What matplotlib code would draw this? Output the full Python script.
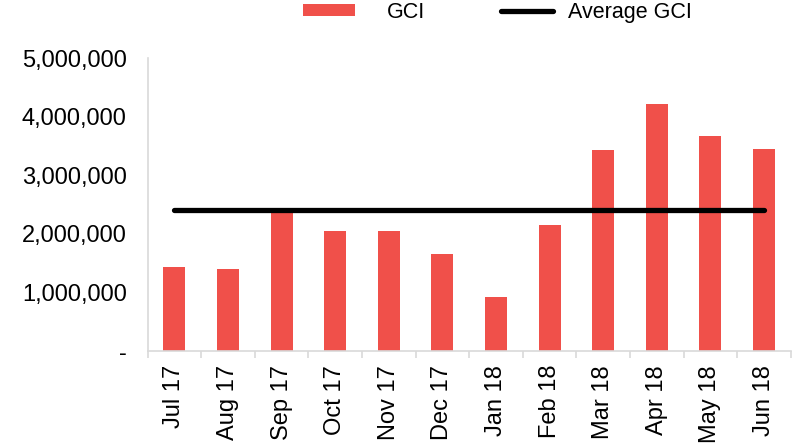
import numpy as np
import matplotlib
matplotlib.use("Agg")
from matplotlib import pyplot as plt
from matplotlib.ticker import FuncFormatter

months = ["Jul 17", "Aug 17", "Sep 17", "Oct 17", "Nov 17", "Dec 17",
          "Jan 18", "Feb 18", "Mar 18", "Apr 18", "May 18", "Jun 18"]
gci = [1430000, 1400000, 2420000, 2050000, 2040000, 1650000,
       930000, 2150000, 3430000, 4220000, 3670000, 3450000]
avg_gci = [2405000] * len(months)

plt.rcParams['font.family'] = ['Liberation Sans', 'DejaVu Sans']
fs = 17
lfs = 15.5

fig = plt.figure(figsize=(7.94, 4.48), dpi=100)
ax = fig.add_axes([0.186, 0.2165, 0.81, 0.654])

x = np.arange(len(months))
bars = ax.bar(x, gci, width=0.41, color='#F0504A', label='GCI', zorder=2)
line, = ax.plot(x, avg_gci, color='black', lw=3.8, solid_capstyle='round',
                label='Average GCI', zorder=3)

ax.set_xlim(-0.5, len(months) - 0.5)
ax.set_ylim(0, 5000000)
ax.set_yticks(np.arange(0, 5000001, 1000000))
ax.yaxis.set_major_formatter(FuncFormatter(lambda v, p: '-' if v == 0 else f'{v:,.0f}'))
ax.tick_params(axis='y', length=0, pad=15, labelsize=fs)

ax.set_xticks(x)
ax.set_xticklabels(months, rotation=90, fontsize=fs)
ax.set_xticks(np.arange(-0.5, len(months)), minor=True)
ax.tick_params(axis='x', which='major', length=0, pad=10)
ax.tick_params(axis='x', which='minor', length=5, color='#d9d9d9', width=1.2)

for s in ['top', 'right']:
    ax.spines[s].set_visible(False)
for s in ['left', 'bottom']:
    ax.spines[s].set_color('#d9d9d9')
    ax.spines[s].set_linewidth(1.2)

leg_kw = dict(loc='upper left', frameon=False, fontsize=lfs, borderpad=0,
              borderaxespad=0, handlelength=2.4, handleheight=0.5)
fig.legend([bars], ['GCI'], bbox_to_anchor=(0.3816, 0.996),
           handletextpad=1.5, **leg_kw)
fig.legend([line], ['Average GCI'], bbox_to_anchor=(0.631, 0.996),
           handletextpad=0.7, **leg_kw)

plt.savefig('out.png', dpi=100)
